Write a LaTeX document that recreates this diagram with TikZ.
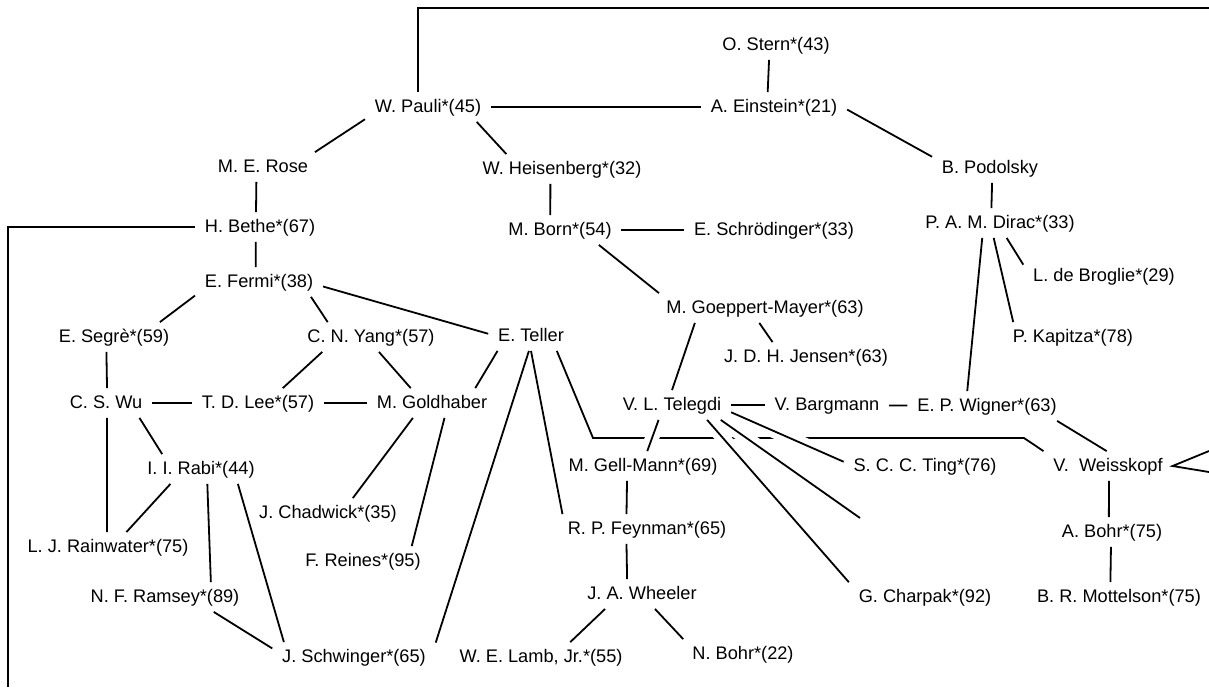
\documentclass[tikz,border=0pt]{standalone}
\usepackage{fontspec}
\setmainfont{Liberation Sans}
\usepackage{tikz}

\tikzset{
  person/.style={font=\fontsize{9.1}{11}\selectfont, inner xsep=4.5pt, inner ysep=2.5pt,
    text height=7pt, text depth=2pt},
  halo/.style={white, line width=7pt},
}

\begin{document}
\begin{tikzpicture}[x=0.5pt,y=-0.5pt,line width=0.9pt]
  \useasboundingbox (0,0) rectangle (1209,687);
  \node [person] (stern) at (776,45) {O. Stern*(43)};
  \node [person] (pauli) at (428,107) {W. Pauli*(45)};
  \node [person] (einstein) at (774,107) {A. Einstein*(21)};
  \node [person] (rose) at (263,167) {M. E. Rose};
  \node [person] (heis) at (562,169) {W. Heisenberg*(32)};
  \node [person] (podolsky) at (990,168) {B. Podolsky};
  \node [person] (bethe) at (260,227) {H. Bethe*(67)};
  \node [person] (born) at (560,230) {M. Born*(54)};
  \node [person] (schrod) at (774,230) {E. Schrödinger*(33)};
  \node [person] (dirac) at (1000,223) {P. A. M. Dirac*(33)};
  \node [person] (debroglie) at (1104,276) {L. de Broglie*(29)};
  \node [person] (fermi) at (259,282) {E. Fermi*(38)};
  \node [person] (gm) at (765,308) {M. Goeppert-Mayer*(63)};
  \node [person] (segre) at (114,337) {E. Segrè*(59)};
  \node [person] (yang) at (371,337) {C. N. Yang*(57)};
  \node [person] (teller) at (531,336) {E. Teller};
  \node [person] (kapitza) at (1073,337) {P. Kapitza*(78)};
  \node [person] (jensen) at (806,357) {J. D. H. Jensen*(63)};
  \node [person] (wu) at (106,403) {C. S. Wu};
  \node [person] (lee) at (258,403) {T. D. Lee*(57)};
  \node [person] (goldhaber) at (432,403) {M. Goldhaber};
  \node [person] (telegdi) at (672,405) {V. L. Telegdi};
  \node [person] (bargmann) at (827,405) {V. Bargmann};
  \node [person] (wigner) at (987,406) {E. P. Wigner*(63)};
  \node [person] (rabi) at (201,469) {I. I. Rabi*(44)};
  \node [person] (gellmann) at (643,466) {M. Gell-Mann*(69)};
  \node [person] (ting) at (925,466) {S. C. C. Ting*(76)};
  \node [person] (weisskopf) at (1108,466) {V.\ \ Weisskopf};
  \node [person] (chadwick) at (328,513) {J. Chadwick*(35)};
  \node [person] (rainwater) at (108,547) {L. J. Rainwater*(75)};
  \node [person] (feynman) at (647,529) {R. P. Feynman*(65)};
  \node [person] (abohr) at (1112,532) {A. Bohr*(75)};
  \node [person] (reines) at (363,561) {F. Reines*(95)};
  \node [person] (ramsey) at (165,597) {N. F. Ramsey*(89)};
  \node [person] (wheeler) at (642,594) {J. A. Wheeler};
  \node [person] (charpak) at (925,597) {G. Charpak*(92)};
  \node [person] (mottelson) at (1119,597) {B. R. Mottelson*(75)};
  \node [person] (schwinger) at (354,657) {J. Schwinger*(65)};
  \node [person] (lamb) at (541,657) {W. E. Lamb, Jr.*(55)};
  \node [person] (nbohr) at (743,654) {N. Bohr*(22)};
  % bouts libres (hors cadre)
  \coordinate (tl) at (418,8);
  \coordinate (tr) at (1209,8);
  \coordinate (bl) at (8,227);
  \coordinate (bb) at (8,687);
  \coordinate (tw1) at (593,438);
  \coordinate (tw2) at (1024,438);
  \coordinate (tdangle) at (860,518);
  \coordinate (wr1) at (1209,451);
  \coordinate (wr2) at (1209,472);

  \draw (stern.245) -- (einstein.113);
  \draw (pauli) -- (einstein);
  \draw (pauli.north -| tl) -- (tl) -- (tr);
  \draw (pauli.191) -- (rose.16);
  \draw (pauli.-17) -- (heis.165);
  \draw (einstein.-2) -- (podolsky.169);
  \draw (rose.246) -- (bethe.105);
  \draw (heis.232) -- (born.123);
  \draw (podolsky.278) -- (dirac.120);
  \draw (bethe.west) -- (bl) -- (bb);
  \draw (born) -- (schrod);
  \draw (born.-21) -- (gm.172);
  \draw (dirac.-66) -- (debroglie.172);
  \draw (dirac.247) -- (kapitza.166);
  \draw (dirac.220) -- (wigner.143);
  \draw (bethe.254) -- (fermi.102);
  \draw (fermi.192) -- (segre.18);
  \draw (fermi.-16) -- (yang.161);
  \draw (fermi.-4) -- (teller.177);
  \draw (gm.249) -- (jensen.156);
  \draw (gm.192) -- (telegdi.north);
  \draw (segre.243) -- (wu.86);
  \draw (yang.197) -- (lee.31);
  \draw (yang.-62) -- (goldhaber.145);
  \draw (teller.204) -- (goldhaber.19);
  \draw (teller.262) -- (schwinger.10);
  \draw (teller.south) -- (feynman.170);
  \draw (teller.-30) -- (tw1) -- (tw2) -- (weisskopf.167);
  \draw (wu) -- (lee);
  \draw (lee) -- (goldhaber);
  \draw (wu.274) -- (rainwater.94);
  \draw (wu.-24) -- (rabi.159);
  \draw (telegdi) -- (bargmann);
  \draw (bargmann) -- (wigner);
  \begin{scope}  % coupures au croisement
    \clip (600,429) rectangle (850,447);
    \draw [halo] (telegdi.228) -- (gellmann.74);
    \draw [halo] (telegdi.-7) -- (ting.177);
    \draw [halo] (telegdi.-17) -- (tdangle);
    \draw [halo] (telegdi.-23) -- (charpak.169);
  \end{scope}
  \draw (telegdi.228) -- (gellmann.74);
  \draw (telegdi.-7) -- (ting.177);
  \draw (telegdi.-17) -- (tdangle);
  \draw (telegdi.-23) -- (charpak.169);
  \draw (wigner.-12) -- (weisskopf.95);
  \draw (wr1) -- (weisskopf.east) -- (wr2);
  \draw (rabi.206) -- (rainwater.39);
  \draw (rabi.-67) -- (ramsey.18);
  \draw (rabi.-22) -- (schwinger.168);
  \draw (goldhaber.218) -- (chadwick.31);
  \draw (goldhaber.-50) -- (reines.17);
  \draw (gellmann.223) -- (feynman.144);
  \draw (feynman.216) -- (wheeler.135);
  \draw (wheeler.202) -- (lamb.27);
  \draw (wheeler.-49) -- (nbohr.166);
  \draw (ramsey.-17) -- (schwinger.174);
  \draw (weisskopf.274) -- (abohr.102);
  \draw (abohr.266) -- (mottelson.120);
\end{tikzpicture}
\end{document}
